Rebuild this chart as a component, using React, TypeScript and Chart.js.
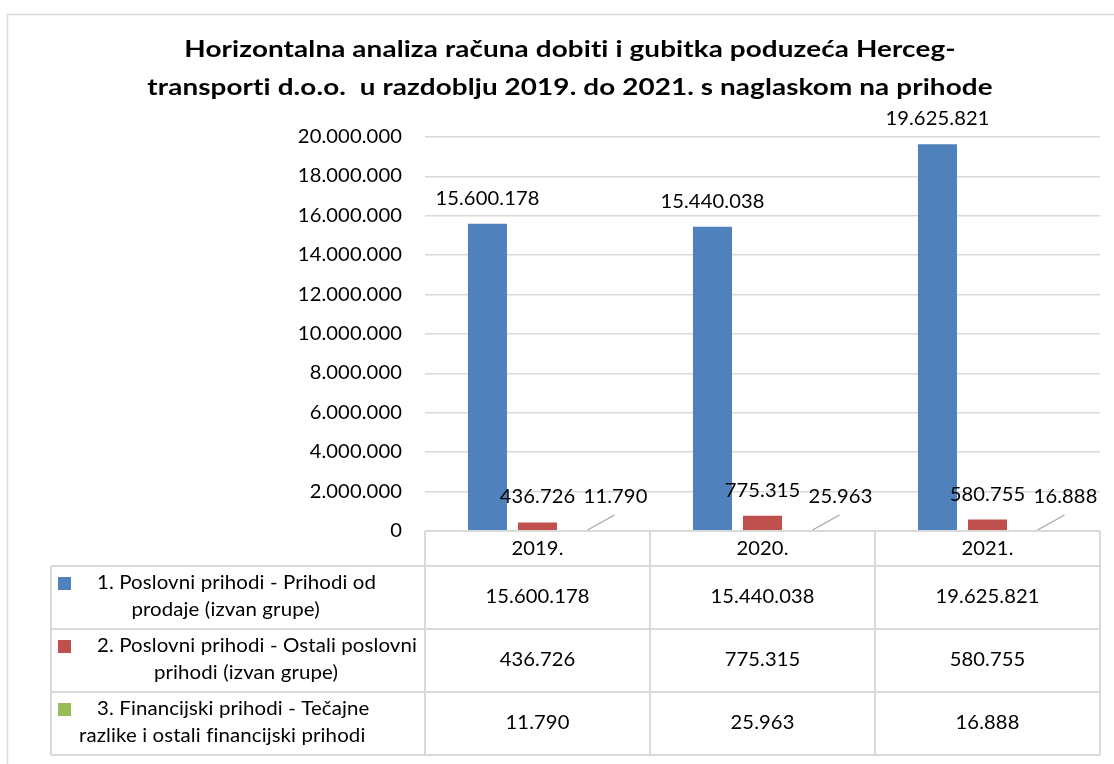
import React, { useEffect, useRef } from "react";
import { Chart, registerables } from "chart.js";

Chart.register(...registerables);

const titleLines = [
  "Horizontalna analiza računa dobiti i gubitka poduzeća Herceg-",
  "transporti d.o.o.  u razdoblju 2019. do 2021. s naglaskom na prihode",
];
const categories = ["2019.", "2020.", "2021."];
const seriesLabels = [
  ["1. Poslovni prihodi - Prihodi od", "prodaje (izvan grupe)"],
  ["2. Poslovni prihodi - Ostali poslovni", "prihodi (izvan grupe)"],
  ["3. Financijski prihodi - Tečajne", "razlike i ostali financijski prihodi"],
];
const prihodiOdProdaje = [15600178, 15440038, 19625821];
const ostaliPoslovniPrihodi = [436726, 775315, 580755];
const financijskiPrihodi = [11790, 25963, 16888];
const seriesColors = ["#4F81BD", "#C0504D", "#9BBB59"];
const yMax = 20000000;
const yStep = 2000000;

const FONT = "Lato, 'Open Sans', sans-serif";
const GRID = "#d9d9d9";
const NUM_FONT = `18.5px ${FONT}`;
const NUM_SX = 1.09;
const LEG_FONT = `18.5px ${FONT}`;
const LEG_SX = 1.105;
const TITLE_FONT = `bold 23px ${FONT}`;
const TITLE_SX = 1.21;

function fmt(n: number): string {
  return Math.round(n).toString().replace(/\B(?=(\d{3})+(?!\d))/g, ".");
}

function measure(ctx: CanvasRenderingContext2D, text: string, font: string, sx: number) {
  ctx.save();
  ctx.font = font;
  try { (ctx as any).letterSpacing = "0.1px"; } catch (e) {}
  const w = ctx.measureText(text).width * sx;
  ctx.restore();
  return w;
}

function drawText(
  ctx: CanvasRenderingContext2D,
  text: string,
  x: number,
  y: number,
  font: string,
  align: "left" | "center" | "right",
  sx: number
) {
  const w = measure(ctx, text, font, sx);
  const left = align === "center" ? x - w / 2 : align === "right" ? x - w : x;
  ctx.save();
  ctx.font = font;
  try { (ctx as any).letterSpacing = "0.1px"; } catch (e) {}
  ctx.fillStyle = "#000";
  ctx.textAlign = "left";
  ctx.textBaseline = "middle";
  ctx.translate(left, y);
  ctx.scale(sx, 1);
  ctx.fillText(text, 0, 0);
  ctx.restore();
}

const tablePlugin = {
  id: "excelTable",
  afterDraw(chart: any) {
    const ctx = chart.ctx as CanvasRenderingContext2D;
    const xs = chart.scales.x;
    const ys = chart.scales.y;
    const area = chart.chartArea;
    const n = categories.length;
    const catW = (area.right - area.left) / n;
    const base = area.bottom;
    const allSeries = [prihodiOdProdaje, ostaliPoslovniPrihodi, financijskiPrihodi];

    ctx.save();
    // outer frame
    ctx.strokeStyle = GRID;
    ctx.lineWidth = 1.5;
    ctx.beginPath();
    ctx.moveTo(7.5, 764);
    ctx.lineTo(7.5, 14.5);
    ctx.lineTo(1114, 14.5);
    ctx.stroke();
    ctx.restore();

    // title
    drawText(ctx, titleLines[0], 570, 50, TITLE_FONT, "center", TITLE_SX);
    drawText(ctx, titleLines[1], 570, 88, TITLE_FONT, "center", TITLE_SX);

    // y tick labels
    ys.ticks.forEach((t: any) => {
      drawText(ctx, fmt(t.value), area.left - 23, ys.getPixelForValue(t.value), NUM_FONT, "right", NUM_SX);
    });

    // data labels
    chart.data.datasets.forEach((ds: any, di: number) => {
      const meta = chart.getDatasetMeta(di);
      meta.data.forEach((bar: any, i: number) => {
        const v = ds.data[i];
        if (di < 2) {
          drawText(ctx, fmt(v), bar.x, bar.y - 25, NUM_FONT, "center", NUM_SX);
        } else {
          ctx.save();
          ctx.strokeStyle = "#a6a6a6";
          ctx.lineWidth = 1.2;
          ctx.beginPath();
          ctx.moveTo(bar.x, base - 1);
          ctx.lineTo(bar.x + 27, base - 16);
          ctx.stroke();
          ctx.restore();
          drawText(ctx, fmt(v), bar.x + 28, base - 34, NUM_FONT, "center", NUM_SX);
        }
      });
    });

    // table
    const tableLeft = 51;
    const rows = [base, 566, 629, 692, 755];
    const colEdges: number[] = [];
    for (let i = 0; i <= n; i++) colEdges.push(xs.getPixelForValue(0) - catW / 2 + i * catW);

    ctx.save();
    ctx.strokeStyle = GRID;
    ctx.lineWidth = 2;
    ctx.beginPath();
    ctx.moveTo(colEdges[0], rows[0]);
    ctx.lineTo(colEdges[n], rows[0]);
    for (let r = 1; r < rows.length; r++) {
      ctx.moveTo(tableLeft, rows[r]);
      ctx.lineTo(colEdges[n], rows[r]);
    }
    colEdges.forEach((x) => {
      ctx.moveTo(x, rows[0]);
      ctx.lineTo(x, rows[rows.length - 1]);
    });
    ctx.moveTo(tableLeft, rows[1]);
    ctx.lineTo(tableLeft, rows[rows.length - 1]);
    ctx.stroke();
    ctx.restore();

    categories.forEach((c, i) => {
      drawText(ctx, c, xs.getPixelForValue(i), (rows[0] + rows[1]) / 2 + 1, NUM_FONT, "center", NUM_SX);
    });
    allSeries.forEach((s, si) => {
      const top = rows[si + 1];
      const bottom = rows[si + 2];
      const cy = (top + bottom) / 2;
      s.forEach((v, i) => {
        drawText(ctx, fmt(v), xs.getPixelForValue(i), cy, NUM_FONT, "center", NUM_SX);
      });
      // legend key + wrapped legend text
      const l1y = top + 17;
      const l2y = top + 44;
      ctx.save();
      ctx.fillStyle = seriesColors[si];
      ctx.fillRect(58, l1y - 6, 13, 13);
      ctx.restore();
      const indent = 22;
      const blockLeft = 75;
      const w1 = measure(ctx, seriesLabels[si][0], LEG_FONT, LEG_SX);
      const w2 = measure(ctx, seriesLabels[si][1], LEG_FONT, LEG_SX);
      const bw = Math.max(indent + w1, w2);
      const centre = blockLeft + bw / 2;
      drawText(ctx, seriesLabels[si][0], centre - (indent + w1) / 2 + indent, l1y, LEG_FONT, "left", LEG_SX);
      drawText(ctx, seriesLabels[si][1], centre, l2y, LEG_FONT, "center", LEG_SX);
    });
  },
};

export default function App() {
  const ref = useRef<HTMLCanvasElement | null>(null);
  useEffect(() => {
    if (!ref.current) return;
    const chart = new Chart(ref.current, {
      type: "bar",
      data: {
        labels: categories,
        datasets: [
          { label: seriesLabels[0].join(" "), data: prihodiOdProdaje, backgroundColor: seriesColors[0] },
          { label: seriesLabels[1].join(" "), data: ostaliPoslovniPrihodi, backgroundColor: seriesColors[1] },
          { label: seriesLabels[2].join(" "), data: financijskiPrihodi, backgroundColor: seriesColors[2] },
        ],
      },
      options: {
        responsive: false,
        animation: false,
        layout: { padding: { top: 137, bottom: 233, left: 0, right: 14 } },
        categoryPercentage: 0.667,
        barPercentage: 0.78,
        plugins: {
          legend: { display: false },
          title: { display: false },
          tooltip: { enabled: false },
        },
        scales: {
          x: { display: false },
          y: {
            min: 0,
            max: yMax,
            ticks: {
              stepSize: yStep,
              display: false,
            },
            grid: { color: GRID, lineWidth: 1.5, drawTicks: false },
            border: { display: false },
            afterFit: (scale: any) => {
              scale.width = 425;
            },
          },
        },
      } as any,
      plugins: [tablePlugin],
    });
    return () => chart.destroy();
  }, []);
  return (
    <div style={{ position: "absolute", left: 0, top: 0, width: 1114, height: 764, background: "#fff" }}>
      <canvas ref={ref} width={1114} height={764} style={{ display: "block" }} />
    </div>
  );
}
